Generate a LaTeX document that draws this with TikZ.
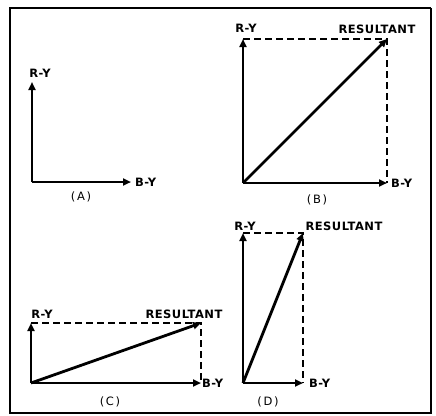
\documentclass[tikz,border=0pt]{standalone}
\usepackage{fontspec}
\setmainfont{DejaVu Sans}
\usetikzlibrary{arrows.meta}
\begin{document}
\begin{tikzpicture}[x=1pt,y=-1pt,
  vec/.style={line width=2.8pt,-{Triangle[length=8pt,width=7pt]}},
  dsh/.style={line width=1.6pt,dash pattern=on 7pt off 4pt},
  lbl/.style={font=\fontsize{11.5}{13}\selectfont\bfseries\addfontfeature{LetterSpace=4},inner sep=0pt},
  captxt/.style={font=\fontsize{11.5}{13}\selectfont\addfontfeature{LetterSpace=14},inner sep=0pt}]
\useasboundingbox (0,0) rectangle (436,415);
% frame
\draw[line width=2.8pt] (10,414) -- (10,8) -- (431,8);
\draw[line width=2pt] (431,8) -- (431,413) -- (10,413);
% (A)
\coordinate (aO) at (32,182);
\coordinate (aR) at (32,82);
\coordinate (aB) at (131,182);
\draw[vec] (aO) -- (aR);
\draw[vec] (aO) -- (aB);
\node[lbl] (aRl) at (40,73) {R-Y};
\node[lbl,anchor=west] (aBl) at (135,182) {B-Y};
\node[captxt] (acap) at (81,197) {(A)};
% (B)
\coordinate (bO) at (243,183);
\coordinate (bR) at (243,39);
\coordinate (bB) at (387,183);
\coordinate (bP) at (387,39);
\draw[dsh] (bR) -- (bP) -- (bB);
\draw[vec] (bO) -- (bR);
\draw[vec] (bO) -- (bB);
\draw[vec] (bO) -- (bP);
\node[lbl] (bRl) at (246,28) {R-Y};
\node[lbl] (bPl) at (377,29) {RESULTANT};
\node[lbl,anchor=west] (bBl) at (391,183) {B-Y};
\node[captxt] (bcap) at (317,200) {(B)};
% (C)
\coordinate (cO) at (31,383);
\coordinate (cR) at (31,323);
\coordinate (cB) at (201,383);
\coordinate (cP) at (201,323);
\draw[dsh] (cR) -- (cP) -- (cB);
\draw[vec] (cO) -- (cR);
\draw[vec] (cO) -- (cB);
\draw[vec] (cO) -- (cP);
\node[lbl] (cRl) at (42,314) {R-Y};
\node[lbl] (cPl) at (184,314) {RESULTANT};
\node[lbl,anchor=west] (cBl) at (202,383) {B-Y};
\node[captxt] (ccap) at (110,402) {(C)};
% (D)
\coordinate (dO) at (243,383);
\coordinate (dR) at (243,233);
\coordinate (dB) at (303,383);
\coordinate (dP) at (303,233);
\draw[dsh] (dR) -- (dP) -- (dB);
\draw[vec] (dO) -- (dR);
\draw[vec] (dO) -- (dB);
\draw[vec] (dO) -- (dP);
\node[lbl] (dRl) at (245,226) {R-Y};
\node[lbl] (dPl) at (344,226) {RESULTANT};
\node[lbl,anchor=west] (dBl) at (309,383) {B-Y};
\node[captxt] (dcap) at (268,402) {(D)};
\end{tikzpicture}
\end{document}
